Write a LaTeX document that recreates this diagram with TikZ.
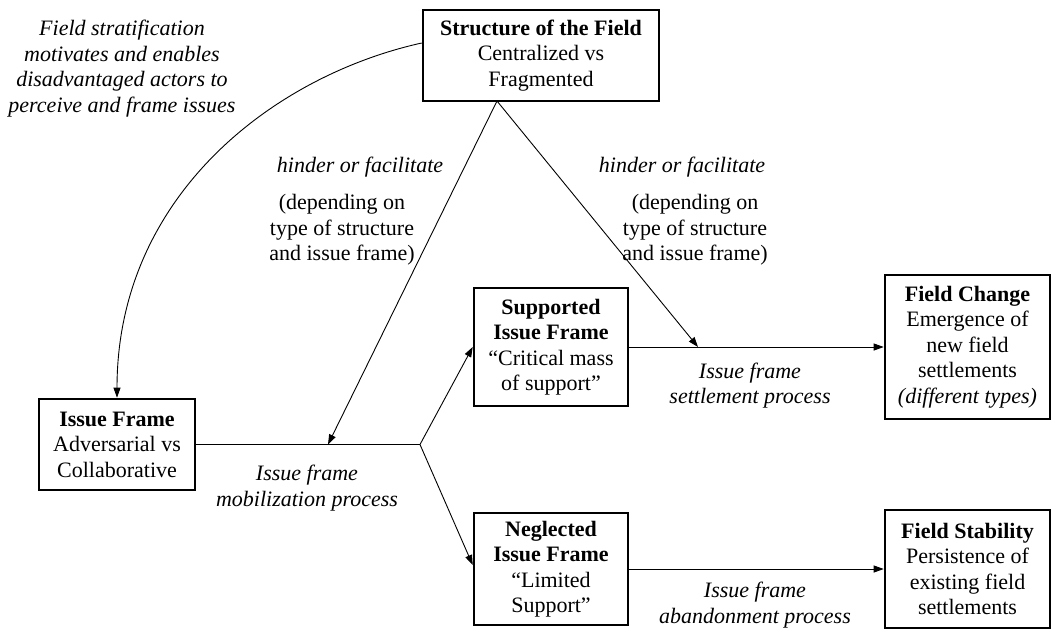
\documentclass[tikz,border=0pt]{standalone}
\usepackage{fontspec}
\setmainfont{Liberation Serif}
\usetikzlibrary{arrows.meta}
\begin{document}
\begin{tikzpicture}[x=1pt,y=-1pt,
  box/.style={draw, line width=2.6pt, inner sep=0pt, align=center, font=\fontsize{22}{25.5}\selectfont},
  lbl/.style={inner sep=0pt, align=center, font=\fontsize{22}{25.5}\selectfont},
  ital/.style={inner sep=0pt, align=center, font=\fontsize{22}{25.5}\selectfont\itshape},
  conn/.style={line width=0.9pt, -{Triangle[length=10pt,width=7pt]}},
  link/.style={line width=0.9pt}]
\useasboundingbox (0,0) rectangle (1059,637);
% boxes
\node[box, minimum width=236pt, minimum height=91pt] (struct) at (541,55.5)
  {\textbf{Structure of the Field}\\Centralized vs\\Fragmented};
\node[box, minimum width=156pt, minimum height=91pt] (issue) at (117,444.5)
  {\textbf{Issue Frame}\\Adversarial vs\\Collaborative};
\node[box, minimum width=154pt, minimum height=118pt] (supp) at (551,347)
  {\textbf{Supported}\\\textbf{Issue Frame}\\“Critical mass\\of support”};
\node[box, minimum width=154pt, minimum height=112pt] (negl) at (551,569)
  {\textbf{Neglected}\\\textbf{Issue Frame}\\“Limited\\Support”};
\node[box, minimum width=165pt, minimum height=144pt] (change) at (967.5,347)
  {\textbf{Field Change}\\Emergence of\\new field\\settlements\\\textit{(different types)}};
\node[box, minimum width=165pt, minimum height=118pt] (stab) at (967.5,569)
  {\textbf{Field Stability}\\Persistence of\\existing field\\settlements};
% labels
\node[ital] (strat) at (122,68.5) {Field stratification\\motivates and enables\\disadvantaged actors to\\perceive and frame issues};
\node[ital] (hf1) at (360,167) {hinder or facilitate};
\node[lbl] (dep1) at (342,230) {(depending on\\type of structure\\and issue frame)};
\node[ital] (hf2) at (682,167) {hinder or facilitate};
\node[lbl] (dep2) at (695,230) {(depending on\\type of structure\\and issue frame)};
\node[ital] (mob) at (307,488) {Issue frame\\mobilization process};
\node[ital] (set) at (750,385.5) {Issue frame\\settlement process};
\node[ital] (aba) at (755,605) {Issue frame\\abandonment process};
% coordinates
\coordinate (J) at (420,444.5);
\coordinate (apex) at (497,101);
\coordinate (m1) at (328,444.5);
\coordinate (s1) at (698,347);
% connectors
\draw[link] (issue.east) -- (J);
\draw[conn] (J) -- (supp.west);
\draw[conn] (J) -- ([yshift=4pt]negl.west);
\draw[conn] (apex) -- (m1);
\draw[conn] (apex) -- (s1);
\draw[conn] (supp.east) -- (change.west);
\draw[conn] (negl.east) -- (stab.west);
\draw[conn] ([yshift=12.5pt]struct.west) .. controls (273,76) and (117,196) .. (issue.north);
\end{tikzpicture}
\end{document}
